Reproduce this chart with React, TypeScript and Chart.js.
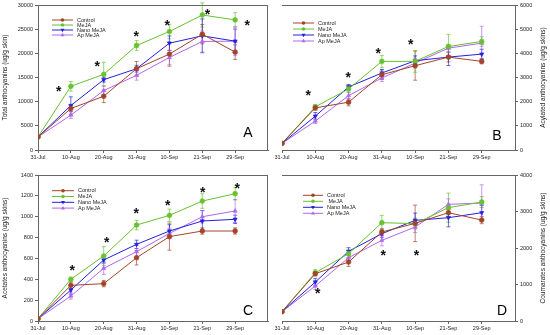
import React, { useEffect, useRef } from 'react';
import { Chart, registerables } from 'chart.js';
Chart.register(...registerables);

const FONT = '"Liberation Sans", Arial, sans-serif';

const dates = ['31-Jul', '10-Aug', '20-Aug', '31-Aug', '10-Sep', '21-Sep', '29-Sep'];
const seriesNames = ['Control', 'MeJA', 'Nano MeJA', 'Ap MeJA'];
const seriesNamesD = ['Control', ' MeJA', 'Nano MeJA', 'Ap MeJA'];

// Panel A - Total anthocyanins
const totalControl = [2700, 8580, 11120, 16820, 19840, 23960, 20250];
const totalMeJA = [2700, 13180, 15650, 21620, 24510, 27940, 26910];
const totalNano = [2700, 9200, 14550, 16820, 22100, 23620, 22520];
const totalAp = [2700, 7210, 12290, 15450, 19150, 22450, 22520];
const totalControlErr = [0, 600, 1300, 1500, 2500, 2000, 1500];
const totalMeJAErr = [0, 1000, 2500, 1000, 1500, 2500, 1500];
const totalNanoErr = [0, 1800, 500, 700, 1500, 3500, 2500];
const totalApErr = [0, 700, 1000, 1000, 1500, 2200, 3000];
const totalAstX = [0.63, 1.8, 2.99, 3.93, 5.16, 6.37];
const totalAstY = [12840, 17990, 24160, 26570, 28830, 26570];

// Panel B - Acylated anthocyanins
const acylControl = [275, 1744, 1977, 3117, 3488, 3844, 3666];
const acylMeJA = [275, 1785, 2526, 3666, 3666, 4284, 4490];
const acylNano = [275, 1400, 2609, 3185, 3693, 3844, 3968];
const acylAp = [275, 1195, 2250, 2980, 3597, 4215, 4421];
const acylControlErr = [0, 100, 150, 200, 600, 200, 100];
const acylMeJAErr = [0, 100, 150, 250, 450, 500, 200];
const acylNanoErr = [0, 150, 100, 150, 200, 350, 200];
const acylApErr = [0, 100, 150, 150, 200, 150, 700];
const acylAstX = [0.79, 1.99, 2.89, 3.87];
const acylAstY = [2389, 3158, 4146, 4517];

// Panel C - Acetates anthocyanins
const acetControl = [22, 342, 358, 607, 809, 863, 863];
const acetMeJA = [22, 400, 623, 920, 1013, 1150, 1221];
const acetNano = [22, 297, 585, 735, 863, 959, 975];
const acetAp = [22, 240, 505, 665, 840, 1000, 1055];
const acetControlErr = [0, 30, 30, 70, 130, 30, 30];
const acetMeJAErr = [0, 20, 90, 45, 60, 70, 60];
const acetNanoErr = [0, 40, 30, 40, 60, 100, 40];
const acetApErr = [0, 30, 60, 60, 50, 60, 110];
const acetAstX = [1.04, 2.09, 2.99, 3.95, 5.01, 6.06];
const acetAstY = [521, 789, 1064, 1144, 1262, 1304];

// Panel D - Coumarates anthocyanins
const coumControl = [255, 1296, 1616, 2438, 2675, 2967, 2766];
const coumMeJA = [255, 1324, 1844, 2694, 2666, 3105, 3260];
const coumNano = [255, 1068, 1908, 2392, 2757, 2830, 2967];
const coumAp = [255, 959, 1735, 2210, 2575, 3196, 3232];
const coumControlErr = [0, 60, 120, 100, 500, 100, 100];
const coumMeJAErr = [0, 80, 100, 200, 150, 400, 150];
const coumNanoErr = [0, 100, 100, 100, 200, 250, 200];
const coumApErr = [0, 100, 80, 150, 150, 150, 500];
const coumAstX = [1.07, 3.04, 4.04];
const coumAstY = [840, 1899, 1899];

const colors = ['#a3442a', '#66c22e', '#2020dd', '#b066ee'];
const pointStyles = ['circle', 'circle', 'triangle', 'triangle'];
const rotations = [0, 0, 180, 0];

const panels = [
  {
    key: 'A', left: 0, top: 0, w: 275, h: 168, side: 'left',
    pad: { top: 5, right: 7, left: 0, bottom: 0 }, yW: 38, xH: 18,
    values: [totalControl, totalMeJA, totalNano, totalAp],
    errors: [totalControlErr, totalMeJAErr, totalNanoErr, totalApErr],
    yMax: 30000, yStep: 5000, title: 'Total anthocyanins (ug/g skin)',
    names: seriesNames, astX: totalAstX, astY: totalAstY,
    legend: { dx: 14, len: 21, dy: 15, step: 5 }, letterPos: { dx: -20, dy: -17 },
  },
  {
    key: 'B', left: 275, top: 0, w: 275, h: 168, side: 'right',
    pad: { top: 5, right: 0, left: 7, bottom: 0 }, yW: 35, xH: 18,
    values: [acylControl, acylMeJA, acylNano, acylAp],
    errors: [acylControlErr, acylMeJAErr, acylNanoErr, acylApErr],
    yMax: 6000, yStep: 1000, title: 'Acylated anthocyanins (ug/g skins)',
    names: seriesNames, astX: acylAstX, astY: acylAstY,
    legend: { dx: 11, len: 21, dy: 18, step: 6 }, letterPos: { dx: -18, dy: -14 },
  },
  {
    key: 'C', left: 0, top: 168, w: 275, h: 167, side: 'left',
    pad: { top: 7, right: 7, left: 0, bottom: 0 }, yW: 38, xH: 14,
    values: [acetControl, acetMeJA, acetNano, acetAp],
    errors: [acetControlErr, acetMeJAErr, acetNanoErr, acetApErr],
    yMax: 1400, yStep: 200, title: 'Acetates anthocyanins (ug/g skins)',
    names: seriesNames, astX: acetAstX, astY: acetAstY,
    legend: { dx: 14, len: 22, dy: 15.7, step: 5.8 }, letterPos: { dx: -20, dy: -10 },
  },
  {
    key: 'D', left: 275, top: 168, w: 275, h: 167, side: 'right',
    pad: { top: 7, right: 0, left: 7, bottom: 0 }, yW: 35, xH: 14,
    values: [coumControl, coumMeJA, coumNano, coumAp],
    errors: [coumControlErr, coumMeJAErr, coumNanoErr, coumApErr],
    yMax: 4000, yStep: 1000, title: 'Coumarates anthocyanins (ug/g skins)',
    names: seriesNamesD, astX: coumAstX, astY: coumAstY,
    legend: { dx: 21, len: 20, dy: 20.3, step: 6 }, letterPos: { dx: -13, dy: -10 },
  },
];

function drawMarker(ctx: CanvasRenderingContext2D, style: string, rot: number, x: number, y: number, r: number, color: string) {
  ctx.save();
  ctx.fillStyle = color;
  ctx.strokeStyle = color;
  ctx.lineWidth = 0.8;
  ctx.beginPath();
  if (style === 'circle') {
    ctx.arc(x, y, r, 0, Math.PI * 2);
  } else {
    const s = rot === 180 ? -1 : 1;
    const rr = r * 1.2;
    ctx.moveTo(x, y - s * rr);
    ctx.lineTo(x - rr * 0.9, y + s * rr * 0.6);
    ctx.lineTo(x + rr * 0.9, y + s * rr * 0.6);
    ctx.closePath();
  }
  ctx.fill();
  ctx.restore();
}

const decoPlugin = {
  id: 'deco',
  beforeDatasetsDraw(chart: any, _args: any, opts: any) {
    const ctx = chart.ctx as CanvasRenderingContext2D;
    const xs = chart.scales.x, ys = chart.scales.y;
    chart.data.datasets.forEach((ds: any, i: number) => {
      const errs = opts.errors[i];
      ctx.save();
      ctx.strokeStyle = ds.borderColor;
      ctx.globalAlpha = 0.85;
      ctx.lineWidth = 0.8;
      ds.data.forEach((p: any, j: number) => {
        const e = errs[j];
        if (!e) return;
        const px = xs.getPixelForValue(p.x);
        const y1 = ys.getPixelForValue(p.y - e);
        const y2 = ys.getPixelForValue(p.y + e);
        ctx.beginPath();
        ctx.moveTo(px, y1); ctx.lineTo(px, y2);
        ctx.moveTo(px - 2, y1); ctx.lineTo(px + 2, y1);
        ctx.moveTo(px - 2, y2); ctx.lineTo(px + 2, y2);
        ctx.stroke();
      });
      ctx.restore();
    });
  },
  afterDraw(chart: any, _args: any, opts: any) {
    const ctx = chart.ctx as CanvasRenderingContext2D;
    const ca = chart.chartArea;
    const xs = chart.scales.x, ys = chart.scales.y;
    ctx.save();
    // frame
    ctx.strokeStyle = '#666';
    ctx.lineWidth = 1;
    ctx.beginPath();
    ctx.moveTo(ca.left, ca.top + 0.5); ctx.lineTo(ca.right, ca.top + 0.5);
    if (opts.side === 'left') {
      ctx.moveTo(ca.right - 0.5, ca.top); ctx.lineTo(ca.right - 0.5, ca.bottom);
    }
    ctx.stroke();

    // legend
    const lg = opts.legend;
    ctx.font = `5.5px ${FONT}`;
    ctx.textBaseline = 'middle';
    ctx.textAlign = 'left';
    opts.names.forEach((name: string, i: number) => {
      const y = ca.top + lg.dy + i * lg.step;
      const x0 = ca.left + lg.dx;
      ctx.strokeStyle = colors[i];
      ctx.lineWidth = 1;
      ctx.beginPath();
      ctx.moveTo(x0, y); ctx.lineTo(x0 + lg.len, y);
      ctx.stroke();
      drawMarker(ctx, pointStyles[i], rotations[i], x0 + lg.len / 2, y, 1.8, colors[i]);
      ctx.fillStyle = '#222';
      ctx.fillText(name, x0 + lg.len + 4, y);
    });

    // asterisks
    const fs = 14;
    ctx.font = `bold ${fs}px ${FONT}`;
    ctx.textAlign = 'center';
    ctx.textBaseline = 'alphabetic';
    ctx.fillStyle = '#111';
    opts.astX.forEach((ax: number, k: number) => {
      const px = xs.getPixelForValue(ax);
      const py = ys.getPixelForValue(opts.astY[k]);
      ctx.fillText('*', px, py + fs * 0.57);
    });

    // panel letter
    ctx.font = `14px ${FONT}`;
    ctx.textBaseline = 'middle';
    ctx.fillStyle = '#000';
    ctx.fillText(opts.letter, ca.right + opts.letterPos.dx, ca.bottom + opts.letterPos.dy);

    // axis title
    ctx.font = `6.5px ${FONT}`;
    ctx.fillStyle = '#222';
    const tx = opts.side === 'left' ? 5 : chart.width - 7;
    ctx.translate(tx, (ca.top + ca.bottom) / 2);
    ctx.rotate(-Math.PI / 2);
    ctx.textAlign = 'center';
    ctx.fillText(opts.title, 0, 0);
    ctx.restore();
  },
};

function Panel({ p }: { p: any }) {
  const ref = useRef<HTMLCanvasElement>(null);
  useEffect(() => {
    if (!ref.current) return;
    const datasets = p.values.map((vals: number[], i: number) => ({
      label: p.names[i],
      data: vals.map((v, j) => ({ x: j, y: v })),
      borderColor: colors[i],
      backgroundColor: colors[i],
      borderWidth: 1,
      pointStyle: pointStyles[i],
      rotation: rotations[i],
      pointRadius: 2.4,
      pointBorderWidth: 0.6,
      tension: 0,
    }));
    const tickFont = { size: 5.5, family: FONT };
    const chart = new Chart(ref.current, {
      type: 'line',
      data: { datasets },
      plugins: [decoPlugin],
      options: {
        animation: false,
        responsive: false,
        devicePixelRatio: 1,
        layout: { padding: p.pad },
        plugins: {
          legend: { display: false },
          tooltip: { enabled: false },
          deco: {
            errors: p.errors, side: p.side, legend: p.legend, names: p.names,
            astX: p.astX, astY: p.astY, letter: p.key, letterPos: p.letterPos, title: p.title,
          },
        } as any,
        scales: {
          x: {
            type: 'linear',
            min: 0,
            max: 7,
            afterBuildTicks: (s: any) => {
              s.ticks = dates.map((_, j) => ({ value: j }));
            },
            afterFit: (s: any) => {
              s.height = p.xH;
              s.paddingLeft = 0;
              s.paddingRight = 0;
            },
            ticks: {
              autoSkip: false,
              maxRotation: 0,
              font: tickFont,
              color: '#222',
              padding: 1,
              callback: (v: any) => dates[v] ?? '',
            },
            grid: { drawOnChartArea: false, drawTicks: true, tickLength: 3, color: '#666' },
            border: { display: true, color: '#666', width: 1 },
          },
          y: {
            type: 'linear',
            position: p.side,
            min: 0,
            max: p.yMax,
            afterFit: (s: any) => {
              s.width = p.yW;
              s.paddingTop = 0;
              s.paddingBottom = 0;
            },
            ticks: {
              stepSize: p.yStep, font: tickFont, color: '#222', padding: 2,
              callback: (v: any) => String(v),
            },
            grid: { drawOnChartArea: false, drawTicks: true, tickLength: 3, color: '#666' },
            border: { display: true, color: '#666', width: 1 },
          },
        },
      } as any,
    });
    return () => chart.destroy();
  }, [p]);
  return (
    <canvas
      ref={ref}
      width={p.w}
      height={p.h}
      style={{ position: 'absolute', left: p.left, top: p.top, width: p.w, height: p.h, display: 'block' }}
    />
  );
}

export default function App() {
  return (
    <div style={{ position: 'fixed', left: 0, top: 0, width: 550, height: 335, background: '#fff', overflow: 'hidden' }}>
      {panels.map((p) => (
        <Panel key={p.key} p={p} />
      ))}
    </div>
  );
}
